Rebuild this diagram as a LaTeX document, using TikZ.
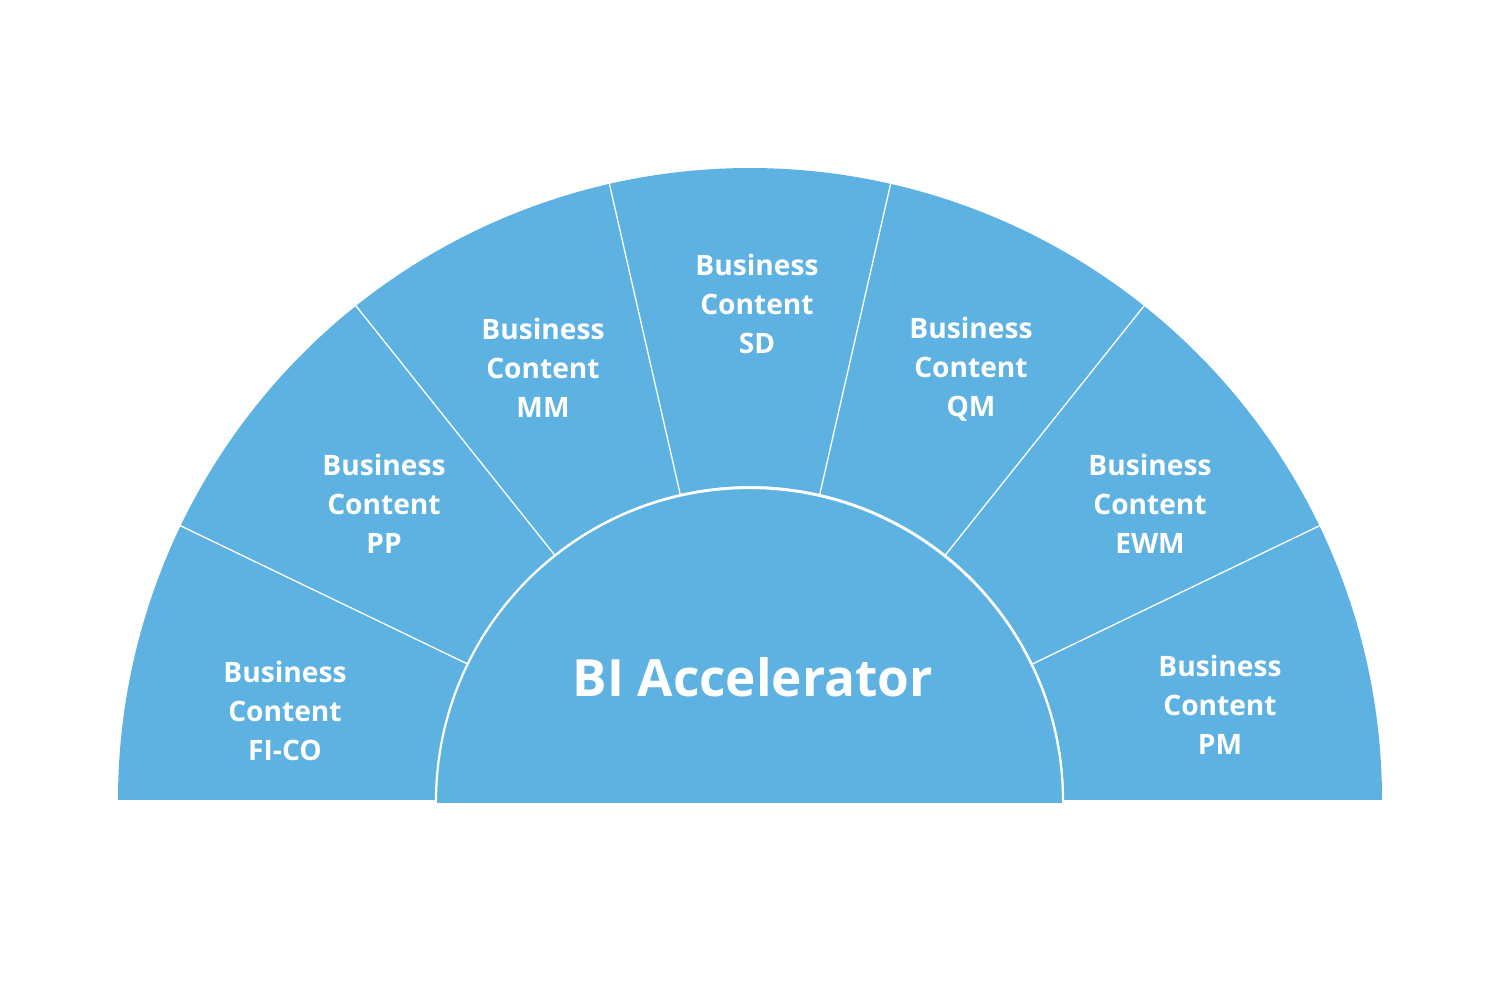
\documentclass[tikz,border=0pt]{standalone}
\usepackage{fontspec}
\setmainfont{Open Sans}
\definecolor{seg}{RGB}{93,178,226}
\begin{document}
\begin{tikzpicture}[x=0.01cm,y=0.01cm,
  label/.style={text=white,font=\fontsize{8}{11.1}\selectfont\bfseries,align=center},
  title/.style={text=white,font=\fontsize{14.6}{17}\selectfont\bfseries}]
\useasboundingbox (0,0) rectangle (1500,1000);
\coordinate (c) at (750,200);
\foreach \i in {0,...,6}{
  \pgfmathsetmacro{\a}{180-\i*180/7}
  \pgfmathsetmacro{\b}{180-(\i+1)*180/7}
  \fill[seg] ([shift={(\a:632)}]c) arc[start angle=\a,end angle=\b,radius=632]
     -- ([shift={(\b:314)}]c) arc[start angle=\b,end angle=\a,radius=314] -- cycle;
}
\foreach \i in {1,...,6}{
  \pgfmathsetmacro{\a}{180-\i*180/7}
  \draw[white,line width=0.13mm] ([shift={(\a:300)}]c) -- ([shift={(\a:640)}]c);
}
\fill[seg,draw=white,line width=0.22mm] (436,198.5) arc[start angle=180,end angle=0,radius=313.5] -- cycle;
\fill[seg] (437.2,199.6) rectangle (1061.8,197.4);
\node[label] (fico) at (285,289) {Business\\Content\\FI-CO};
\node[label] (pp) at (384,496) {Business\\Content\\PP};
\node[label] (mm) at (543,632) {Business\\Content\\MM};
\node[label] (sd) at (757,696) {Business\\Content\\SD};
\node[label] (qm) at (971,631) {Business\\Content\\QM};
\node[label] (ewm) at (1150,496) {Business\\Content\\EWM};
\node[label] (pm) at (1220,295) {Business\\Content\\PM};
\node[title] (bi) at (753,323) {BI Accelerator};
\end{tikzpicture}
\end{document}
